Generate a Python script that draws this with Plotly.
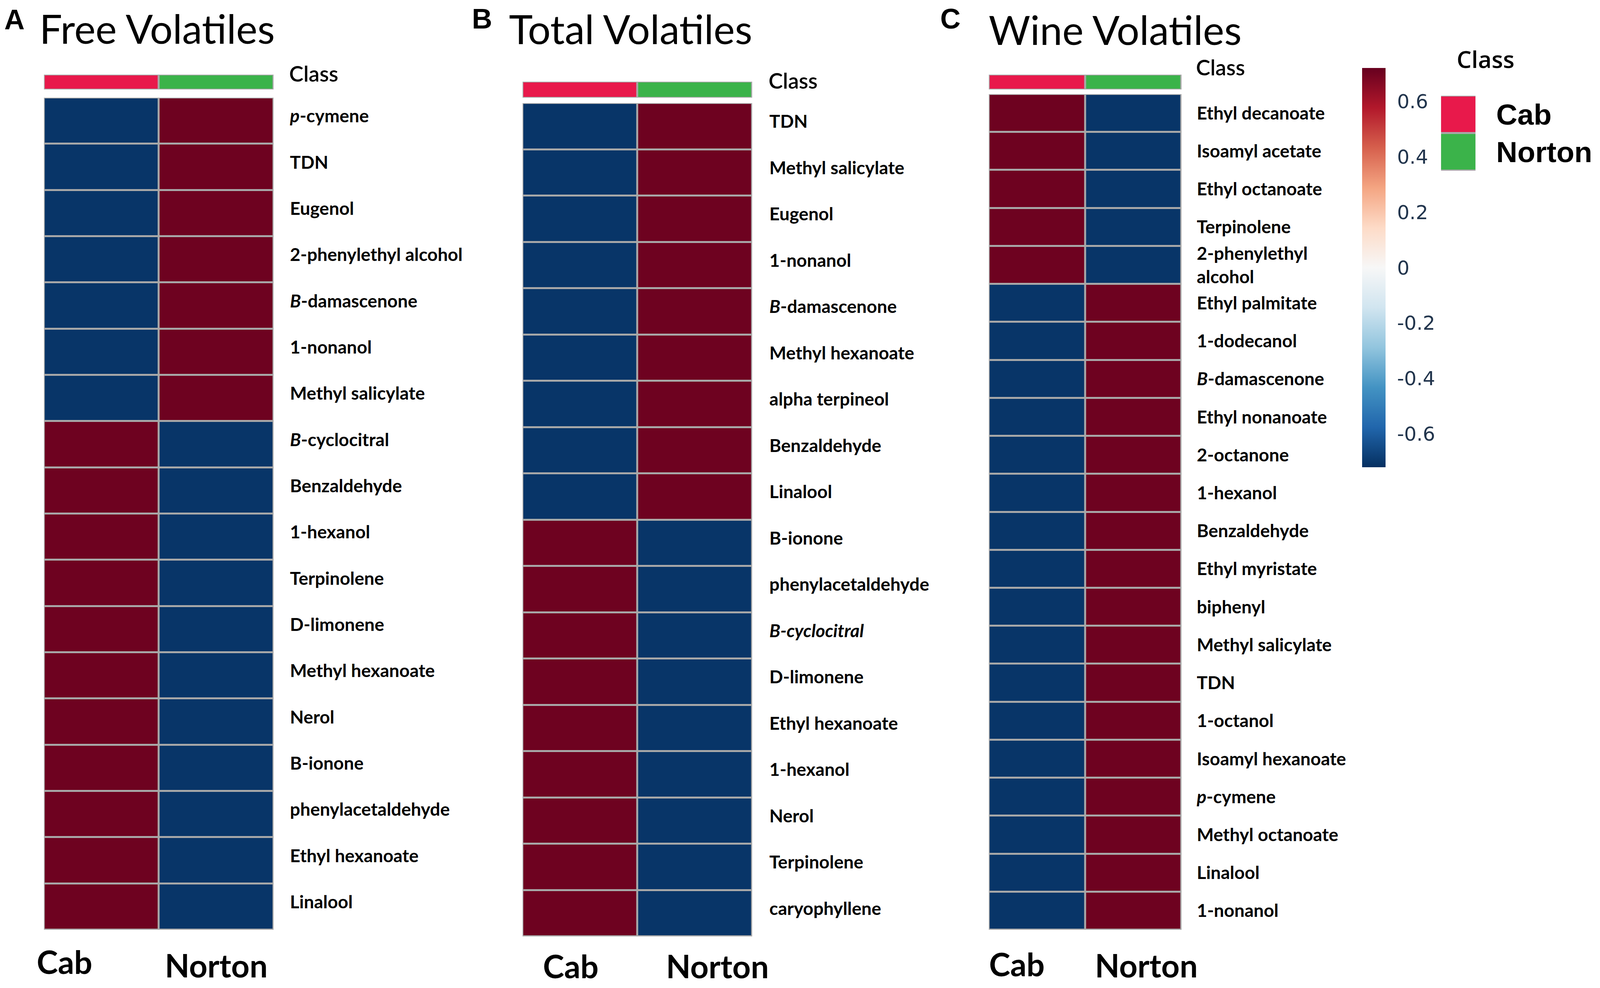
import plotly.graph_objects as go

# ---------------- data ----------------
samples = ["Cab", "Norton"]

free_names = ["<i>p</i>-cymene", "TDN", "Eugenol", "2-phenylethyl alcohol", "<i>B</i>-damascenone",
              "1-nonanol", "Methyl salicylate", "<i>B</i>-cyclocitral", "Benzaldehyde", "1-hexanol",
              "Terpinolene", "D-limonene", "Methyl hexanoate", "Nerol", "B-ionone",
              "phenylacetaldehyde", "Ethyl hexanoate", "Linalool"]
free_cab = [-0.707]*7 + [0.707]*11
free_norton = [0.707]*7 + [-0.707]*11

total_names = ["TDN", "Methyl salicylate", "Eugenol", "1-nonanol", "<i>B</i>-damascenone",
               "Methyl hexanoate", "alpha terpineol", "Benzaldehyde", "Linalool", "B-ionone",
               "phenylacetaldehyde", "<i>B-cyclocitral</i>", "D-limonene", "Ethyl hexanoate",
               "1-hexanol", "Nerol", "Terpinolene", "caryophyllene"]
total_cab = [-0.707]*9 + [0.707]*9
total_norton = [0.707]*9 + [-0.707]*9

wine_names = ["Ethyl decanoate", "Isoamyl acetate", "Ethyl octanoate", "Terpinolene",
              "2-phenylethyl<br>alcohol", "Ethyl palmitate", "1-dodecanol", "<i>B</i>-damascenone",
              "Ethyl nonanoate", "2-octanone", "1-hexanol", "Benzaldehyde", "Ethyl myristate",
              "biphenyl", "Methyl salicylate", "TDN", "1-octanol", "Isoamyl hexanoate",
              "<i>p</i>-cymene", "Methyl octanoate", "Linalool", "1-nonanol"]
wine_cab = [0.707]*5 + [-0.707]*17
wine_norton = [-0.707]*5 + [0.707]*17

class_codes = [0, 1]
cbar_ticks = [0.6, 0.4, 0.2, 0, -0.2, -0.4, -0.6]
cbar_text = ["0.6", "0.4", "0.2", "0", "-0.2", "-0.4", "-0.6"]

# ---------------- geometry (page viewport is 4096 x 2529, body margin 8) ----------------
REF_W, PAGE_W, PAGE_H, M = 4550, 4096, 2529, 8
FW, FH = PAGE_W - 2 * M, PAGE_H - 2 * M
SX = PAGE_W / REF_W


def px(xr):          # reference x -> paper fraction
    return (xr * SX - M) / FW


def py(yr):          # reference y -> paper fraction
    return 1 - (yr - M) / FH


def dx(a, b): return [px(a), px(b)]
def dy(top, bottom): return [py(bottom), py(top)]


rdbu = [[0.0, "#053061"], [0.1, "#2166ac"], [0.2, "#4393c3"], [0.3, "#92c5de"], [0.4, "#d1e5f0"],
        [0.5, "#f7f7f7"], [0.6, "#fddbc7"], [0.7, "#f4a582"], [0.8, "#d6604d"], [0.9, "#b2182b"],
        [1.0, "#67001f"]]
PINK, GREEN = "#E8194B", "#3BB34A"
class_scale = [[0, PINK], [0.5, PINK], [0.5, GREEN], [1, GREEN]]
ZMIN, ZMAX = -0.72, 0.72
GAP = 5

panels = [
    dict(names=free_names, cab=free_cab, nor=free_norton, x=(125, 778), main=(250, 2380), cls=(191, 229),
         title="Free Volatiles", tx=110, ty=72, letter="A", lx=10, ly=50, lab_sd=41, lab_shift=12,
         cls_shift=-20, bot_y=(2461, 2470), bot_shift=(-94, 0)),
    dict(names=total_names, cab=total_cab, nor=total_norton, x=(1486, 2139), main=(264, 2397), cls=(209, 250),
         title="Total Volatiles", tx=1445, ty=73, letter="B", lx=1340, ly=48, lab_sd=43, lab_shift=12,
         cls_shift=-22, bot_y=(2472, 2472), bot_shift=(-24, 58)),
    dict(names=wine_names, cab=wine_cab, nor=wine_norton, x=(2812, 3360), main=(241, 2380), cls=(191, 229),
         title="Wine Volatiles", tx=2809, ty=75, letter="C", lx=2672, ly=48, lab_sd=38, lab_shift=0,
         cls_shift=-36, bot_y=(2467, 2470), bot_shift=(-52, 33)),
]

fig = go.Figure()
layout = dict(width=FW, height=FH, autosize=False,
              margin=dict(l=0, r=0, t=0, b=0, autoexpand=False), paper_bgcolor="white",
              plot_bgcolor="#a8a8a8", showlegend=False, annotations=[])

label_font = dict(family="Lato", size=46, color="black", weight=700)
sample_font = dict(family="Lato", size=82, color="black", weight=700)

ax = 1
for i, p in enumerate(panels):
    xa, ya = f"x{ax}", f"y{ax}"
    z = [[c, n] for c, n in zip(p["cab"], p["nor"])]
    hm = dict(z=z, x=samples, y=p["names"], colorscale=rdbu, zmin=ZMIN, zmax=ZMAX,
              xgap=GAP, ygap=GAP, xaxis=xa, yaxis=ya, showscale=(i == 0), hoverinfo="skip")
    if i == 0:
        hm["colorbar"] = dict(x=px(3874), xanchor="left", y=py(685), yanchor="middle",
                              thickness=60, thicknessmode="pixels", len=1022, lenmode="pixels",
                              outlinewidth=0, xpad=0, ypad=0, tickvals=cbar_ticks, ticktext=cbar_text,
                              ticks="outside", ticklen=20, tickcolor="rgba(0,0,0,0)",
                              tickfont=dict(family="DejaVu Sans", size=50, color="#22354d"))
    fig.add_trace(go.Heatmap(**hm))
    sfx = "" if ax == 1 else str(ax)
    layout["xaxis" + sfx] = dict(domain=dx(*p["x"]), anchor=ya, showticklabels=False, showgrid=False,
                                 zeroline=False, showline=False, ticks="", fixedrange=True,
                                 autorange=False, range=[-0.5, len(samples) - 0.5])
    layout["yaxis" + sfx] = dict(domain=dy(*p["main"]), anchor=xa, side="right", autorange="reversed",
                                 showgrid=False, zeroline=False, showline=False, ticks="",
                                 tickfont=label_font, ticklabelstandoff=p["lab_sd"],
                                 ticklabelshift=p["lab_shift"], fixedrange=True)
    for s, yy, sh in zip(samples, p["bot_y"], p["bot_shift"]):
        layout["annotations"].append(dict(text=s, x=s, xref=xa, y=py(yy), yref="paper", xshift=sh,
                                          xanchor="center", yanchor="middle", showarrow=False,
                                          font=sample_font))
    ax += 1
    xa, ya = f"x{ax}", f"y{ax}"
    fig.add_trace(go.Heatmap(z=[class_codes], x=samples, y=["Class"], colorscale=class_scale,
                             zmin=0, zmax=1, xgap=GAP, ygap=4, showscale=False, xaxis=xa, yaxis=ya,
                             hoverinfo="skip"))
    layout["xaxis" + str(ax)] = dict(domain=dx(*p["x"]), anchor=ya, showticklabels=False, showgrid=False,
                                     zeroline=False, ticks="", fixedrange=True,
                                     autorange=False, range=[-0.5, len(samples) - 0.5])
    layout["yaxis" + str(ax)] = dict(domain=dy(*p["cls"]), anchor=xa, side="right", showgrid=False,
                                     zeroline=False, ticks="", ticklabelstandoff=p["lab_sd"] - 2,
                                     ticklabelshift=p["cls_shift"],
                                     tickfont=dict(family="Lato", size=55, color="black", weight=600),
                                     fixedrange=True)
    ax += 1
    layout["annotations"].append(dict(text=p["title"], x=px(p["tx"]), y=py(p["ty"]), xref="paper",
                                      yref="paper", xanchor="left", yanchor="middle", showarrow=False,
                                      font=dict(family="Lato", size=103, color="black")))
    layout["annotations"].append(dict(text=p["letter"], x=px(p["lx"]), y=py(p["ly"]), xref="paper",
                                      yref="paper", xanchor="left", yanchor="middle", showarrow=False,
                                      font=dict(family="Liberation Sans", size=72, color="black",
                                                weight=700)))

xa, ya = f"x{ax}", f"y{ax}"
fig.add_trace(go.Heatmap(z=[[c] for c in class_codes], x=["Class"], y=samples, colorscale=class_scale,
                         zmin=0, zmax=1, ygap=5, showscale=False, xaxis=xa, yaxis=ya, hoverinfo="skip"))
layout["xaxis" + str(ax)] = dict(domain=dx(4098, 4196), anchor=ya, showticklabels=False, showgrid=False,
                                 zeroline=False, ticks="", fixedrange=True)
layout["yaxis" + str(ax)] = dict(domain=dy(245, 437), anchor=xa, side="right", autorange="reversed",
                                 showgrid=False, zeroline=False, ticks="", ticklabelstandoff=52,
                                 tickfont=dict(family="Liberation Sans", size=75, color="black", weight=700),
                                 fixedrange=True)
layout["annotations"].append(dict(text="Class", x=px(4225), y=py(151), xref="paper", yref="paper",
                                  xanchor="center", yanchor="middle", showarrow=False,
                                  font=dict(family="Open Sans", size=60, color="black", weight=600)))

fig.update_layout(**layout)
fig.write_html("out.html")
